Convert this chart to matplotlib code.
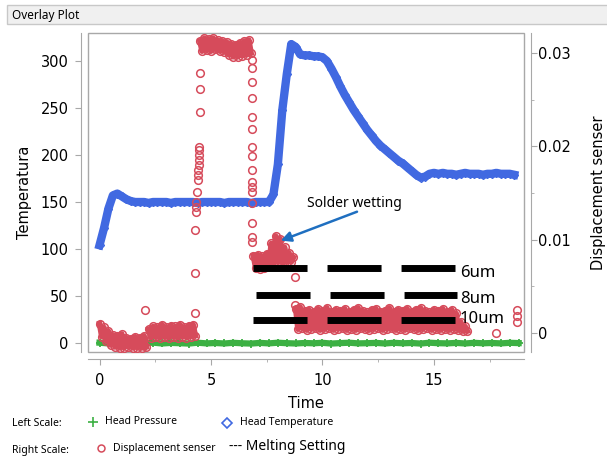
import numpy as np
import matplotlib
matplotlib.use("Agg")
import matplotlib.pyplot as plt
from matplotlib.lines import Line2D
from matplotlib.patches import Rectangle
from matplotlib.ticker import MultipleLocator, FuncFormatter

plt.rcParams['font.family'] = ['DejaVu Sans']
plt.rcParams['lines.scale_dashes'] = False

# ---- data ----
# head temperature, sampled every 0.2 s from t=0
temp_step = 0.2
head_temp = [104, 122, 143, 157, 159, 156, 153, 151, 150,
             150, 150, 149, 150, 150, 150, 150, 149, 150, 150,
             150, 150, 150, 149, 150, 150, 150, 150, 150, 149,
             150, 150, 150, 150, 150, 149, 150, 150, 150, 150,
             158, 190, 248, 286, 318, 315, 307, 306, 306, 305,
             305, 304, 300, 292, 283, 273, 264, 256, 248, 241,
             234, 227, 221, 215, 210, 206, 202, 198, 194, 191,
             187, 183, 179, 176, 177, 180, 181,
             180, 181, 180, 180, 179, 180, 181, 180, 180, 180,
             179, 180, 180, 181, 180, 180, 180, 179]

# head pressure, every 0.4 s
pres_step = 0.4
head_pres = [0.3, -0.4, 0.2, -0.6, 0.0, -0.3, 0.4, -0.5, 0.1, -0.2,
             -0.6, 0.3, -0.4, 0.0, -0.5, 0.2, -0.3, -0.6, 0.1, -0.4,
             0.3, -0.2, -0.5, 0.0, -0.3, 0.2, -0.6, -0.1, 0.3, -0.4,
             -0.2, 0.1, -0.5, 0.2, -0.3, 0.0, -0.6, 0.3, -0.2, -0.4,
             0.1, -0.5, 0.2, -0.3, 0.0, -0.4, 0.2, -0.1]

# displacement sensor, dense clusters (every 0.1 s from a start time)
disp_step = 0.1
disp_a_start, disp_a = 0.0, [0.0010, -0.0004, 0.0006, -0.0009, 0.0002, -0.0013, -0.0002, -0.0015,
                             -0.0003, -0.0016, -0.0001, -0.0016, -0.0005, -0.0015, -0.0006, -0.0016,
                             -0.0004, -0.0016, -0.0005, -0.0016, -0.0003, -0.0015]
disp_b_start, disp_b = 2.2, [0.0004, -0.0005, 0.0007, -0.0004, 0.0006, -0.0005, 0.0009, -0.0004,
                             0.0006, -0.0005, 0.0008, -0.0004, 0.0007, -0.0005, 0.0009, -0.0004,
                             0.0006, -0.0005, 0.0008, -0.0004, 0.0009, -0.0003]
disp_c_start, disp_c = 4.5, [0.0313, 0.0302, 0.0316, 0.0303, 0.0315, 0.0302, 0.0316, 0.0304,
                             0.0314, 0.0302, 0.0313, 0.0301, 0.0312, 0.0298, 0.0310, 0.0296,
                             0.0309, 0.0296, 0.0311, 0.0297, 0.0313, 0.0298, 0.0314, 0.0300]
disp_d_start, disp_d = 6.9, [0.0083, 0.0070, 0.0084, 0.0069, 0.0082, 0.0070, 0.0085, 0.0072,
                             0.0096, 0.0074, 0.0104, 0.0076, 0.0101, 0.0075, 0.0092, 0.0076,
                             0.0086, 0.0076, 0.0081]
disp_e_start, disp_e = 8.8, [0.0026, 0.0004, 0.0028, 0.0005, 0.0024, 0.0003, 0.0025, 0.0004,
                             0.0023, 0.0005, 0.0026, 0.0003, 0.0024, 0.0004, 0.0027, 0.0005,
                             0.0023, 0.0003, 0.0025, 0.0004, 0.0024, 0.0005, 0.0026, 0.0003,
                             0.0023, 0.0004, 0.0025, 0.0003, 0.0027, 0.0005, 0.0024, 0.0004,
                             0.0022, 0.0003, 0.0025, 0.0004, 0.0026, 0.0005, 0.0023, 0.0003,
                             0.0024, 0.0004, 0.0027, 0.0005, 0.0023, 0.0003, 0.0025, 0.0004,
                             0.0024, 0.0003, 0.0026, 0.0005, 0.0023, 0.0004, 0.0025, 0.0003,
                             0.0027, 0.0004, 0.0024, 0.0005, 0.0022, 0.0003, 0.0025, 0.0004,
                             0.0024, 0.0003, 0.0026, 0.0004, 0.0023, 0.0003, 0.0025, 0.0004,
                             0.0021, 0.0003, 0.0012, 0.0002, 0.0007, 0.0002]

# displacement sensor, scattered points (time, value)
disp_sparse_t = [2.04, 4.28, 4.28, 4.28, 4.33, 4.33, 4.35, 4.38, 4.42, 4.42, 4.44, 4.45,
                 4.45, 4.46, 4.46, 4.47, 4.52, 4.52, 4.52,
                 6.86, 6.85, 6.84, 6.85, 6.86, 6.84, 6.85, 6.86, 6.85, 6.84, 6.85, 6.86,
                 6.85, 6.84, 6.85, 6.86,
                 8.75, 8.75, 17.8, 18.72, 18.72, 18.72]
disp_sparse_v = [0.0025, 0.0021, 0.0064, 0.0110, 0.0130, 0.0135, 0.0140, 0.0151, 0.0164, 0.0169,
                 0.0175, 0.0180, 0.0185, 0.0191, 0.0196, 0.0199, 0.0237, 0.0262, 0.0279,
                 0.0293, 0.0284, 0.0269, 0.0252, 0.0232, 0.0219, 0.0199, 0.0190, 0.0175, 0.0162,
                 0.0156, 0.0151, 0.0139, 0.0118, 0.0103, 0.0098,
                 0.0060, 0.0030, 0.0000, 0.0025, 0.0018, 0.0012]

# melting setting marks
melt_labels = ['6um', '8um', '10um']
melt_levels = [0.0070, 0.0041, 0.0014]
melt_label_y = [0.0060, 0.00322, 0.00107]
melt_start = [6.88, 7.02, 6.88]
melt_end = [15.93, 16.05, 15.93]

BLUE = '#4169e1'
RED = '#d64b5b'
GREEN = '#3cb043'
GRID = '#a8a8a8'

W, H = 607, 457
fig = plt.figure(figsize=(W / 100, H / 100), dpi=100)


def fx(px):
    return px / W


def fy(py):
    return 1 - py / H


# title bar
fig.add_artist(Rectangle((fx(7), fy(24)), 1, 19 / H, transform=fig.transFigure,
                         facecolor='#f0f0f0', edgecolor='#c8c8c8', lw=1))
fig.text(fx(12), fy(15), 'Overlay Plot', fontsize=8.5, fontweight='bold',
         family=['Noto Sans', 'DejaVu Sans'], va='center', ha='left')

ax = fig.add_axes([fx(88), fy(352), (524 - 88) / W, (352 - 33) / H])
ax2 = ax.twinx()

# left scale
t_temp = np.arange(len(head_temp)) * temp_step
t_pres = np.arange(len(head_pres)) * pres_step
ax.plot(t_pres, head_pres, color=GREEN, lw=4.5, marker='+', ms=6, mew=1.3, zorder=2)
ax.plot(t_temp, head_temp, color=BLUE, lw=6, marker='D', ms=4.5, mfc='none', mew=1.0, zorder=3)

# right scale
for start, vals in [(disp_a_start, disp_a), (disp_b_start, disp_b), (disp_c_start, disp_c),
                    (disp_d_start, disp_d), (disp_e_start, disp_e)]:
    tt = start + np.arange(len(vals)) * disp_step
    ax2.plot(tt, vals, color=RED, lw=4, marker='o', ms=5.5, mfc='none', mew=1.1)
ax2.plot(disp_sparse_t, disp_sparse_v, ls='none', color=RED, marker='o', ms=5.5,
         mfc='none', mew=1.1)

for lvl, x0, x1, ly, lab in zip(melt_levels, melt_start, melt_end, melt_label_y, melt_labels):
    ax2.plot([x0, x1], [lvl, lvl], color='black', lw=5, dashes=(38.9, 14.4),
             solid_capstyle='butt', dash_capstyle='butt', zorder=5)
    ax2.text(16.16, ly, lab, fontsize=12, family=['Noto Sans'], va='baseline', zorder=6)

ax2.text(11.45, 0.0139, 'Solder wetting', fontsize=10, family=['Noto Sans'],
         ha='center', va='center', zorder=6)
ax2.annotate('', xy=(8.13, 0.0099), xytext=(11.55, 0.0130),
             arrowprops=dict(arrowstyle='-|>', color='#1f6fc0', lw=1.8, mutation_scale=15,
                             shrinkA=0, shrinkB=0), zorder=6)

# limits
ax.set_xlim(-0.516, 19.04)
ax.set_ylim(-9.57, 329.8)
ax2.set_ylim(-0.002036, 0.032154)

# axes look
for s in ['top', 'right']:
    ax.spines[s].set_visible(False)
for s in ['top', 'left', 'bottom']:
    ax2.spines[s].set_visible(False)
for sp in [ax.spines['left'], ax.spines['bottom'], ax2.spines['right']]:
    sp.set_position(('outward', 5))
    sp.set_color(GRID)
ax.add_patch(Rectangle((0, 0), 1, 1, transform=ax.transAxes, fill=False,
                       edgecolor=GRID, lw=1, clip_on=False, zorder=10))

ax.yaxis.set_major_locator(MultipleLocator(50))
ax.xaxis.set_major_locator(MultipleLocator(5))
ax.xaxis.set_minor_locator(MultipleLocator(2.5))
ax2.yaxis.set_major_locator(MultipleLocator(0.01))
ax2.yaxis.set_minor_locator(MultipleLocator(0.005))
ax2.yaxis.set_major_formatter(FuncFormatter(lambda v, p: '0' if abs(v) < 1e-9 else f'{v:.2f}'))

ax.tick_params(axis='y', length=4, color=GRID, labelsize=10.5, pad=5)
ax.tick_params(axis='x', which='major', length=4, color=GRID, labelsize=10.5, pad=6)
ax.tick_params(axis='x', which='minor', length=2.5, color=GRID)
ax2.tick_params(axis='y', which='major', length=4, color=GRID, labelsize=10.5, pad=1)
ax2.tick_params(axis='y', which='minor', length=2.5, color=GRID)

ax.set_xlabel('Time', fontsize=10.5, labelpad=6)
ax.set_ylabel('Temperatura', fontsize=10.5, labelpad=6)
fig.text(fx(591), fy(193), 'Displacement senser', rotation=90, fontsize=10.5,
         ha='left', va='center')

# legend at the bottom
fs_leg = 7.5
fam = ['Noto Sans', 'DejaVu Sans']
fig.text(fx(12), fy(424), 'Left Scale:', fontsize=fs_leg, family=fam, va='center')
fig.text(fx(12), fy(451), 'Right Scale:', fontsize=fs_leg, family=fam, va='center')
fig.add_artist(Line2D([fx(93)], [fy(422)], marker='+', color=GREEN, ms=7, mew=1.2,
                      transform=fig.transFigure))
fig.text(fx(105), fy(422), 'Head Pressure', fontsize=fs_leg, family=fam, va='center')
fig.add_artist(Line2D([fx(227)], [fy(423)], marker='D', color=BLUE, mfc='none', ms=5,
                      mew=1.2, transform=fig.transFigure))
fig.text(fx(240), fy(422), 'Head Temperature', fontsize=fs_leg, family=fam, va='center')
fig.add_artist(Line2D([fx(101)], [fy(448)], marker='o', color=RED, mfc='none', ms=5,
                      mew=1.1, transform=fig.transFigure))
fig.text(fx(113), fy(448), 'Displacement senser', fontsize=fs_leg, family=fam, va='center')
fig.text(fx(229), fy(447), '--- Melting Setting', fontsize=10, family=fam, va='center')

fig.savefig('out.png', dpi=100)
